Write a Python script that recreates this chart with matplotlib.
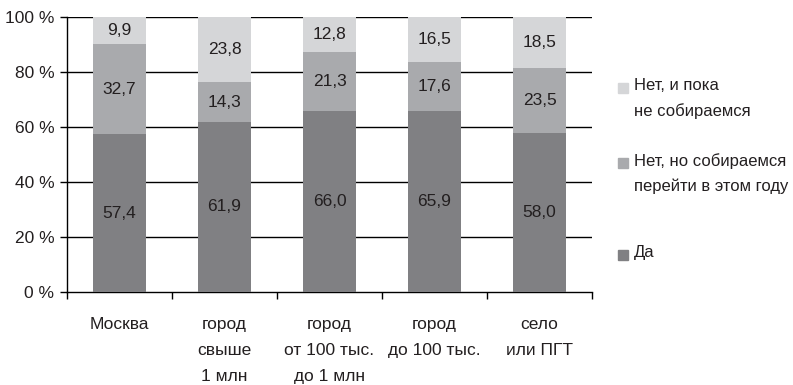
import matplotlib
matplotlib.use("Agg")
import matplotlib.pyplot as plt
from matplotlib.patches import Rectangle
import numpy as np

plt.rcParams['font.family'] = ['Liberation Sans', 'DejaVu Sans']

categories = ["Москва", "город\nсвыше\n1 млн", "город\nот 100 тыс.\nдо 1 млн",
              "город\nдо 100 тыс.", "село\nили ПГТ"]
series_names = ["Да", "Нет, но собираемся\nперейти в этом году", "Нет, и пока\nне собираемся"]
da = [57.4, 61.9, 66.0, 65.9, 58.0]
net_sobiraemsya = [32.7, 14.3, 21.3, 17.6, 23.5]
net_poka = [9.9, 23.8, 12.8, 16.5, 18.5]
yticks = [0, 20, 40, 60, 80, 100]
ytick_labels = ["0 %", "20 %", "40 %", "60 %", "80 %", "100 %"]

colors = ["#808083", "#a9aaad", "#d5d6d8"]
txt_color = "#231f20"
fs = 12.5

fig = plt.figure(figsize=(7.93, 3.85), dpi=100)
ax = fig.add_axes([67/793, 1-292/385, (592-67)/793, (292-17)/385])

x = np.arange(len(categories))
bottom = np.zeros(len(categories))
for vals, col in zip([da, net_sobiraemsya, net_poka], colors):
    vals = np.array(vals)
    ax.bar(x, vals, width=0.5, bottom=bottom, color=col, zorder=3, linewidth=0)
    for xi, b, v in zip(x, bottom, vals):
        ax.text(xi, b + v/2, f"{v:.1f}".replace(".", ","), ha="center", va="center",
                fontsize=fs, color=txt_color, zorder=4)
    bottom += vals

ax.set_xlim(-0.5, len(categories) - 0.5)
ax.set_ylim(0, 100)
ax.set_yticks(yticks)
ax.set_yticklabels(ytick_labels, fontsize=fs, color=txt_color)
ax.tick_params(axis="y", length=5, width=1, direction="out", pad=4, color="black")
ax.set_xticks(x)
ax.set_xticklabels(categories, fontsize=fs, color=txt_color, linespacing=1.9)
ax.tick_params(axis="x", which="major", length=0, pad=18)
ax.set_xticks(np.arange(len(categories) + 1) - 0.5, minor=True)
ax.tick_params(axis="x", which="minor", length=5, width=1, direction="out", color="black")

for y in yticks[1:]:
    ax.axhline(y, color="black", linewidth=1, zorder=1)
for s in ["top", "right"]:
    ax.spines[s].set_visible(False)
ax.spines["left"].set_linewidth(1)
ax.spines["bottom"].set_linewidth(1)

# legend (manual, squares aligned with first line)
leg_entries = [(series_names[2], colors[2]), (series_names[1], colors[1]), (series_names[0], colors[0])]
first_line_y = [88, 163, 255]
for (lab, col), py in zip(leg_entries, first_line_y):
    fy = 1 - py/385
    fig.patches.append(Rectangle((618/793, fy - 5/385), 10/793, 10/385,
                                 transform=fig.transFigure, color=col))
    fig.text(634/793, fy + 10/385, lab, ha="left", va="top", fontsize=12,
             color=txt_color, linespacing=1.8)

fig.savefig("out.png", dpi=100)
